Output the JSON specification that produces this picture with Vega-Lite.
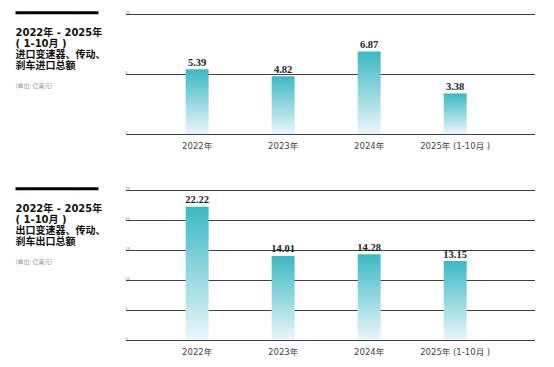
{
  "$schema": "https://vega.github.io/schema/vega-lite/v6.json",
  "padding": {"left": 13.5, "top": 10, "right": 0, "bottom": 0},
  "background": "white",
  "config": {
    "view": {"stroke": null},
    "font": "DejaVu Sans, Noto Sans CJK SC"
  },
  "datasets": {
    "imp": [
      {"year": "2022年", "value": 5.39},
      {"year": "2023年", "value": 4.82},
      {"year": "2024年", "value": 6.87},
      {"year": "2025年 (1-10月 )", "value": 3.38}
    ],
    "exp": [
      {"year": "2022年", "value": 22.22},
      {"year": "2023年", "value": 14.01},
      {"year": "2024年", "value": 14.28},
      {"year": "2025年 (1-10月 )", "value": 13.15}
    ],
    "impText": [{"title": "2022年 - 2025年\n( 1-10月 )\n进口变速器、传动、\n刹车进口总额", "unit": "(单位: 亿美元)"}],
    "expText": [{"title": "2022年 - 2025年\n( 1-10月 )\n出口变速器、传动、\n刹车出口总额", "unit": "(单位: 亿美元)"}]
  },
  "bounds": "flush",
  "columns": 2,
  "spacing": {"row": 56, "column": 27},
  "concat": [
    {
      "width": 83,
      "height": 120,
      "data": {"name": "impText"},
      "layer": [
        {
          "mark": {"type": "rule", "strokeWidth": 3, "color": "#000000"},
          "encoding": {
            "x": {"datum": 0, "type": "quantitative", "scale": {"domain": [0, 1], "nice": false, "zero": false}, "axis": null},
            "x2": {"datum": 1},
            "y": {"datum": -0.13, "type": "quantitative", "scale": {"domain": [0, 12], "nice": false, "zero": false, "reverse": true}, "axis": null}
          }
        },
        {
          "mark": {"type": "text", "align": "left", "baseline": "top", "lineBreak": "\n", "lineHeight": 11, "fontSize": 10, "fontWeight": "bold", "color": "#111111"},
          "encoding": {
            "x": {"datum": 0, "type": "quantitative"},
            "y": {"datum": 1.35, "type": "quantitative"},
            "text": {"field": "title"}
          }
        },
        {
          "mark": {"type": "text", "align": "left", "baseline": "middle", "fontSize": 6, "color": "#999999", "font": "Noto Sans CJK SC"},
          "encoding": {
            "x": {"datum": 0, "type": "quantitative"},
            "y": {"datum": 7.2, "type": "quantitative"},
            "text": {"field": "unit"}
          }
        }
      ]
    },
    {
      "width": 409,
      "height": 120,
      "data": {"name": "imp"},
      "encoding": {
        "x": {
          "field": "year", "type": "nominal", "sort": null,
          "scale": {"paddingInner": 0.733, "paddingOuter": 0.744, "align": 0.47},
          "axis": {"title": null, "domain": false, "ticks": false, "tickSize": 0, "labelPadding": 7, "labelAngle": 0, "labelFontSize": 8.5, "labelColor": "#444444", "grid": false}
        },
        "y": {
          "field": "value", "type": "quantitative",
          "scale": {"domain": [0, 10], "nice": false},
          "axis": {"title": null, "values": [0, 5, 10], "domain": false, "ticks": false, "tickSize": 0, "grid": true, "gridColor": "#404040", "gridWidth": 1, "labelFontSize": 4, "labelColor": "#999999", "labelAlign": "left", "labelBaseline": "bottom", "labelPadding": 1, "labelFlush": false, "labelOverlap": false}
        }
      },
      "layer": [
        {
          "mark": {
            "type": "bar",
            "color": {"gradient": "linear", "x1": 0, "y1": 0, "x2": 0, "y2": 1, "stops": [{"offset": 0, "color": "#3ab9c3"}, {"offset": 1, "color": "#ebf6fc"}]}
          }
        },
        {
          "mark": {"type": "text", "baseline": "bottom", "dy": -1.5, "font": "Liberation Serif", "fontWeight": "bold", "fontSize": 10.5, "color": "#222222"},
          "encoding": {"text": {"field": "value", "type": "quantitative", "format": ".2f"}}
        }
      ]
    },
    {
      "width": 83,
      "height": 150,
      "data": {"name": "expText"},
      "layer": [
        {
          "mark": {"type": "rule", "strokeWidth": 3, "color": "#000000"},
          "encoding": {
            "x": {"datum": 0, "type": "quantitative", "scale": {"domain": [0, 1], "nice": false, "zero": false}, "axis": null},
            "x2": {"datum": 1},
            "y": {"datum": -0.13, "type": "quantitative", "scale": {"domain": [0, 15], "nice": false, "zero": false, "reverse": true}, "axis": null}
          }
        },
        {
          "mark": {"type": "text", "align": "left", "baseline": "top", "lineBreak": "\n", "lineHeight": 11, "fontSize": 10, "fontWeight": "bold", "color": "#111111"},
          "encoding": {
            "x": {"datum": 0, "type": "quantitative"},
            "y": {"datum": 1.35, "type": "quantitative"},
            "text": {"field": "title"}
          }
        },
        {
          "mark": {"type": "text", "align": "left", "baseline": "middle", "fontSize": 6, "color": "#999999", "font": "Noto Sans CJK SC"},
          "encoding": {
            "x": {"datum": 0, "type": "quantitative"},
            "y": {"datum": 7.2, "type": "quantitative"},
            "text": {"field": "unit"}
          }
        }
      ]
    },
    {
      "width": 409,
      "height": 150,
      "data": {"name": "exp"},
      "encoding": {
        "x": {
          "field": "year", "type": "nominal", "sort": null,
          "scale": {"paddingInner": 0.733, "paddingOuter": 0.744, "align": 0.47},
          "axis": {"title": null, "domain": false, "ticks": false, "tickSize": 0, "labelPadding": 7, "labelAngle": 0, "labelFontSize": 8.5, "labelColor": "#444444", "grid": false}
        },
        "y": {
          "field": "value", "type": "quantitative",
          "scale": {"domain": [0, 25], "nice": false},
          "axis": {"title": null, "values": [0, 5, 10, 15, 20, 25], "domain": false, "ticks": false, "tickSize": 0, "grid": true, "gridColor": "#404040", "gridWidth": 1, "labelFontSize": 4, "labelColor": "#999999", "labelAlign": "left", "labelBaseline": "bottom", "labelPadding": 1, "labelFlush": false, "labelOverlap": false}
        }
      },
      "layer": [
        {
          "mark": {
            "type": "bar",
            "color": {"gradient": "linear", "x1": 0, "y1": 0, "x2": 0, "y2": 1, "stops": [{"offset": 0, "color": "#3ab9c3"}, {"offset": 1, "color": "#ebf6fc"}]}
          }
        },
        {
          "mark": {"type": "text", "baseline": "bottom", "dy": -1.5, "font": "Liberation Serif", "fontWeight": "bold", "fontSize": 10.5, "color": "#222222"},
          "encoding": {"text": {"field": "value", "type": "quantitative", "format": ".2f"}}
        }
      ]
    }
  ]
}
